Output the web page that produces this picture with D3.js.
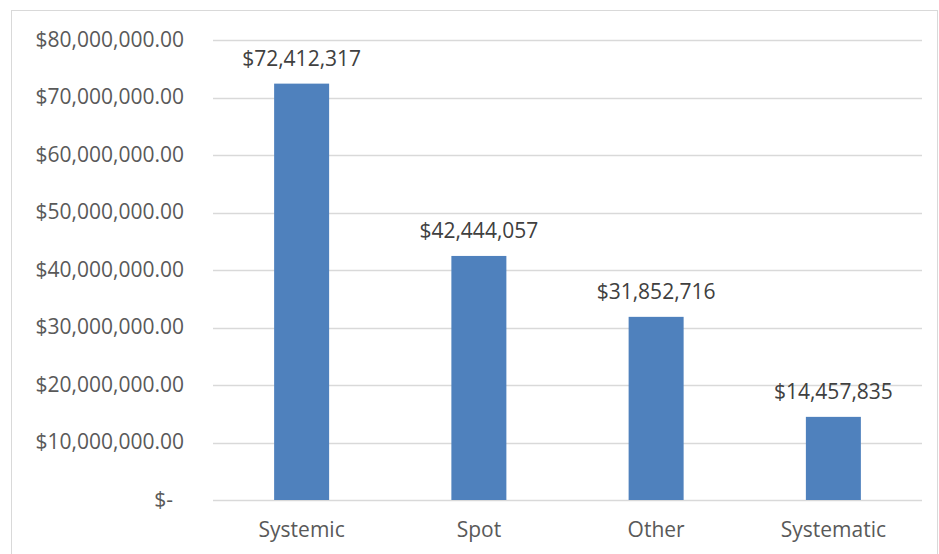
<!DOCTYPE html>
<html><head><meta charset="utf-8">
<script src="https://cdn.jsdelivr.net/npm/d3@7"></script>
<style>body{margin:0;background:#fff}svg{display:block}</style>
</head><body>
<script>
const categories = ["Systemic", "Spot", "Other", "Systematic"];
const values = [72412317, 42444057, 31852716, 14457835];
const yTicks = [0, 10000000, 20000000, 30000000, 40000000, 50000000, 60000000, 70000000, 80000000];

const W = 939, H = 554;
const svg = d3.select("body").append("svg").attr("width", W).attr("height", H);
const font = "'Open Sans', 'Liberation Sans', sans-serif";
const txt = "#595959";

svg.append("rect").attr("x", 11.5).attr("y", 10.5).attr("width", 926).attr("height", 560)
  .attr("fill", "#fff").attr("stroke", "#d9d9d9");

const x = d3.scaleBand().domain(categories).range([213, 922]).padding(0);
const y = d3.scaleLinear().domain([0, 80000000]).range([500, 40]);

// gridlines
svg.append("g").selectAll("line").data(yTicks).join("line")
  .attr("x1", 213).attr("x2", 922)
  .attr("y1", d => Math.round(y(d)) + 0.5).attr("y2", d => Math.round(y(d)) + 0.5)
  .attr("stroke", "#d9d9d9").attr("stroke-width", 1.5);

// y axis
const fmt = d => d === 0 ? "$-" : "$" + d3.format(",.2f")(d);
const ya = svg.append("g").attr("transform", "translate(184,0)")
  .call(d3.axisLeft(y).tickValues(yTicks).tickFormat(fmt).tickSize(0).tickPadding(0));
ya.select(".domain").remove();
ya.selectAll("text").attr("font-family", font).attr("font-size", 21).attr("fill", txt)
  .attr("dy", "0.3em").attr("dx", d => d === 0 ? -11 : 0);

// bars
const bw = 55;
svg.append("g").selectAll("rect").data(values).join("rect")
  .attr("x", (d, i) => x(categories[i]) + x.bandwidth() / 2 - bw / 2)
  .attr("width", bw)
  .attr("y", d => y(d)).attr("height", d => y(0) - y(d))
  .attr("fill", "#4f81bd");

// data labels
svg.append("g").selectAll("text").data(values).join("text")
  .attr("x", (d, i) => x(categories[i]) + x.bandwidth() / 2)
  .attr("y", d => y(d) - 18)
  .attr("text-anchor", "middle")
  .attr("font-family", font).attr("font-size", 21).attr("fill", "#404040")
  .text(d => "$" + d3.format(",")(d));

// x axis labels
const xa = svg.append("g").attr("transform", "translate(0,500)")
  .call(d3.axisBottom(x).tickSize(0).tickPadding(0));
xa.select(".domain").remove();
xa.selectAll("text").attr("font-family", font).attr("font-size", 21).attr("fill", txt)
  .attr("dy", null).attr("y", 37);
</script>
</body></html>
